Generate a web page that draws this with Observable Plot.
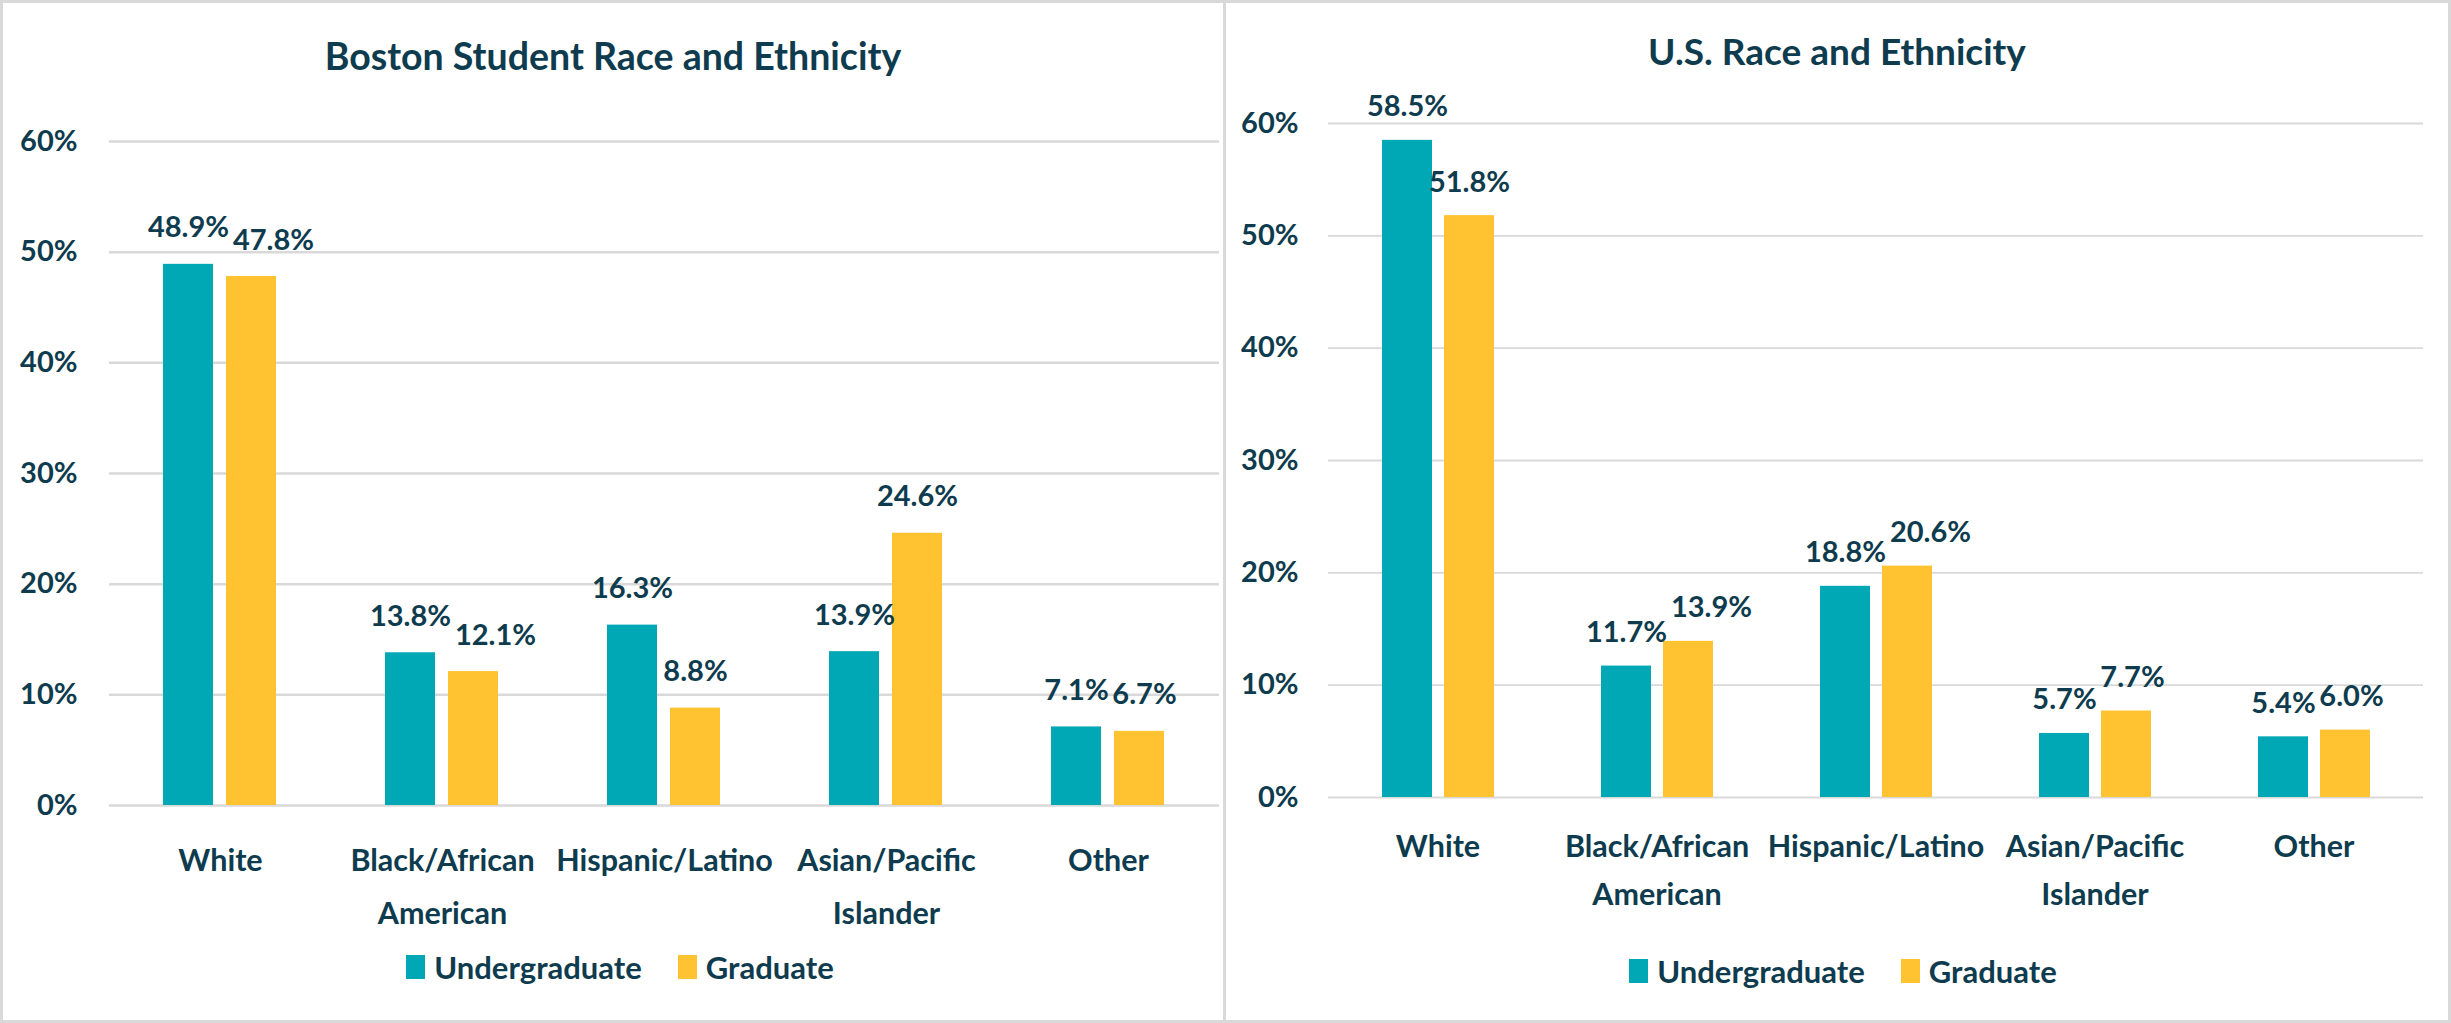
<!DOCTYPE html>
<html>
<head>
<meta charset="utf-8">
<script src="https://cdn.jsdelivr.net/npm/d3@7"></script>
<script src="https://cdn.jsdelivr.net/npm/@observablehq/plot@0.6"></script>
<style>
  html, body { margin: 0; padding: 0; background: #fff; }
  body { width: 2451px; height: 1023px; position: relative; overflow: hidden;
         font-family: Lato, "Open Sans", sans-serif; color: #0E3C4E; }
  .panel { position: absolute; top: 0; height: 1023px; box-sizing: border-box;
           border: 3px solid #D9D9D9; background: #fff; }
  #left { left: 0; width: 1226px; }
  #right { left: 1223px; width: 1228px; }
  .title { height: 100px; line-height: 100px; text-align: center; font-weight: 700;
           font-size: 37.5px; position: relative; white-space: nowrap; }
  #left .title { top: 3px; }
  #right .title { top: -2px; font-size: 37px; }
  .chart svg { display: block; }
  .legend { display: flex; justify-content: center; align-items: center; gap: 36px;
            font-weight: 700; font-size: 31px; }
  #left .legend { height: 58px; padding-left: 14px; }
  #right .legend { height: 66px; padding-left: 12px; }
  .item { display: flex; align-items: center; }
  .sw { width: 19px; height: 24px; margin-right: 9px; }
</style>
</head>
<body>
<div class="panel" id="left">
  <div class="title" id="leftTitle"></div>
  <div class="chart" id="leftChart"></div>
  <div class="legend" id="leftLegend"></div>
</div>
<div class="panel" id="right">
  <div class="title" id="rightTitle"></div>
  <div class="chart" id="rightChart"></div>
  <div class="legend" id="rightLegend"></div>
</div>
<script>
// ---- data ----
const categories = ["White", "Black/African American", "Hispanic/Latino", "Asian/Pacific Islander", "Other"];
const categoryLabels = ["White", "Black/African\nAmerican", "Hispanic/Latino", "Asian/Pacific\nIslander", "Other"];
const seriesNames = ["Undergraduate", "Graduate"];
const seriesColors = ["#00A7B4", "#FFC331"];
const yTicks = [0, 10, 20, 30, 40, 50, 60];

const bostonTitle = "Boston Student Race and Ethnicity";
const bostonUndergrad = [48.9, 13.8, 16.3, 13.9, 7.1];
const bostonGrad = [47.8, 12.1, 8.8, 24.6, 6.7];

const usTitle = "U.S. Race and Ethnicity";
const usUndergrad = [58.5, 11.7, 18.8, 5.7, 5.4];
const usGrad = [51.8, 13.9, 20.6, 7.7, 6.0];

// ---- styling constants ----
const TEXT = "#0E3C4E";
const FONT = "Lato, 'Open Sans', sans-serif";
const FS = 29;      // value labels and y ticks
const FS_CAT = 30.5; // category labels
const PI = 0.2, PO = 0.85;

const fmt = v => v.toFixed(1) + "%";

function makeChart(undergrad, grad, o) {
  const rows = [];
  categories.forEach((c, i) => {
    rows.push({category: c, series: seriesNames[0], value: undergrad[i]});
    rows.push({category: c, series: seriesNames[1], value: grad[i]});
  });
  const plotH = o.height - o.marginTop - o.marginBottom;
  const pxPer = plotH / 60;
  const facetW = (o.width - o.marginLeft - o.marginRight) / categories.length;
  const innerStep = facetW / (2 - PI + 2 * PO);
  const ctx = document.createElement("canvas").getContext("2d");
  ctx.font = `700 ${FS}px ${FONT}`;
  // simple collision avoidance for value labels
  const shift = new Map();
  categories.forEach((c, i) => {
    const u = undergrad[i], g = grad[i];
    const dyPx = Math.abs(u - g) * pxPer;
    const overlap = (ctx.measureText(fmt(u)).width + ctx.measureText(fmt(g)).width) / 2 + 4 - innerStep;
    shift.set(c, dyPx < FS * 0.72 + 4 && overlap > 0 ? Math.round(overlap) : 0);
  });
  const dxOf = r => r.series === seriesNames[1] ? shift.get(r.category) : 0;
  const groups = d3.group(rows, dxOf);
  const textMarks = Array.from(groups, ([dx, rs]) =>
    Plot.text(rs, {fx: "category", x: "series", y: "value", text: d => fmt(d.value),
      lineAnchor: "bottom", dy: o.labelGap, dx, fontSize: FS, fontWeight: 700, fill: TEXT}));

  return Plot.plot({
    width: o.width, height: o.height,
    marginTop: o.marginTop, marginBottom: o.marginBottom,
    marginLeft: o.marginLeft, marginRight: o.marginRight,
    style: {fontFamily: FONT, fontSize: FS + "px", fontWeight: 700, color: TEXT, background: "transparent", overflow: "visible"},
    fx: {domain: categories, padding: 0, label: null},
    x: {domain: seriesNames, paddingInner: PI, paddingOuter: PO, axis: null},
    y: {domain: [0, 60], label: null},
    color: {domain: seriesNames, range: seriesColors},
    marks: [
      Plot.gridY(yTicks, {stroke: "#D9D9D9", strokeOpacity: 1, strokeWidth: o.gridWidth}),
      Plot.axisY(yTicks, {tickSize: 0, tickPadding: o.yPad, tickFormat: d => d + "%", label: null,
        fontSize: FS, fontWeight: 700, fill: TEXT}),
      Plot.axisFx({anchor: "bottom", tickSize: 0, tickPadding: o.xPad, label: null,
        tickFormat: c => categoryLabels[categories.indexOf(c)], lineHeight: o.lineHeight,
        fontSize: FS_CAT, fontWeight: 700, fill: TEXT}),
      Plot.barY(rows, {fx: "category", x: "series", y: "value", fill: "series"}),
      ...textMarks
    ]
  });
}

function makeLegend(el) {
  seriesNames.forEach((s, i) => {
    const item = document.createElement("div");
    item.className = "item";
    const sw = document.createElement("div");
    sw.className = "sw";
    sw.style.background = seriesColors[i];
    const t = document.createElement("span");
    t.textContent = s;
    item.appendChild(sw);
    item.appendChild(t);
    el.appendChild(item);
  });
}

document.getElementById("leftTitle").textContent = bostonTitle;
document.getElementById("rightTitle").textContent = usTitle;

document.getElementById("leftChart").appendChild(makeChart(bostonUndergrad, bostonGrad, {
  width: 1220, height: 835, marginTop: 38, marginBottom: 133, marginLeft: 104, marginRight: 3,
  labelGap: -27, gridWidth: 2.5, yPad: 32, xPad: 28, lineHeight: 1.74
}));
document.getElementById("rightChart").appendChild(makeChart(usUndergrad, usGrad, {
  width: 1222, height: 835, marginTop: 20, marginBottom: 141, marginLeft: 102, marginRight: 25,
  labelGap: -24, gridWidth: 1.8, yPad: 30, xPad: 26, lineHeight: 1.57
}));
makeLegend(document.getElementById("leftLegend"));
makeLegend(document.getElementById("rightLegend"));
</script>
</body>
</html>
